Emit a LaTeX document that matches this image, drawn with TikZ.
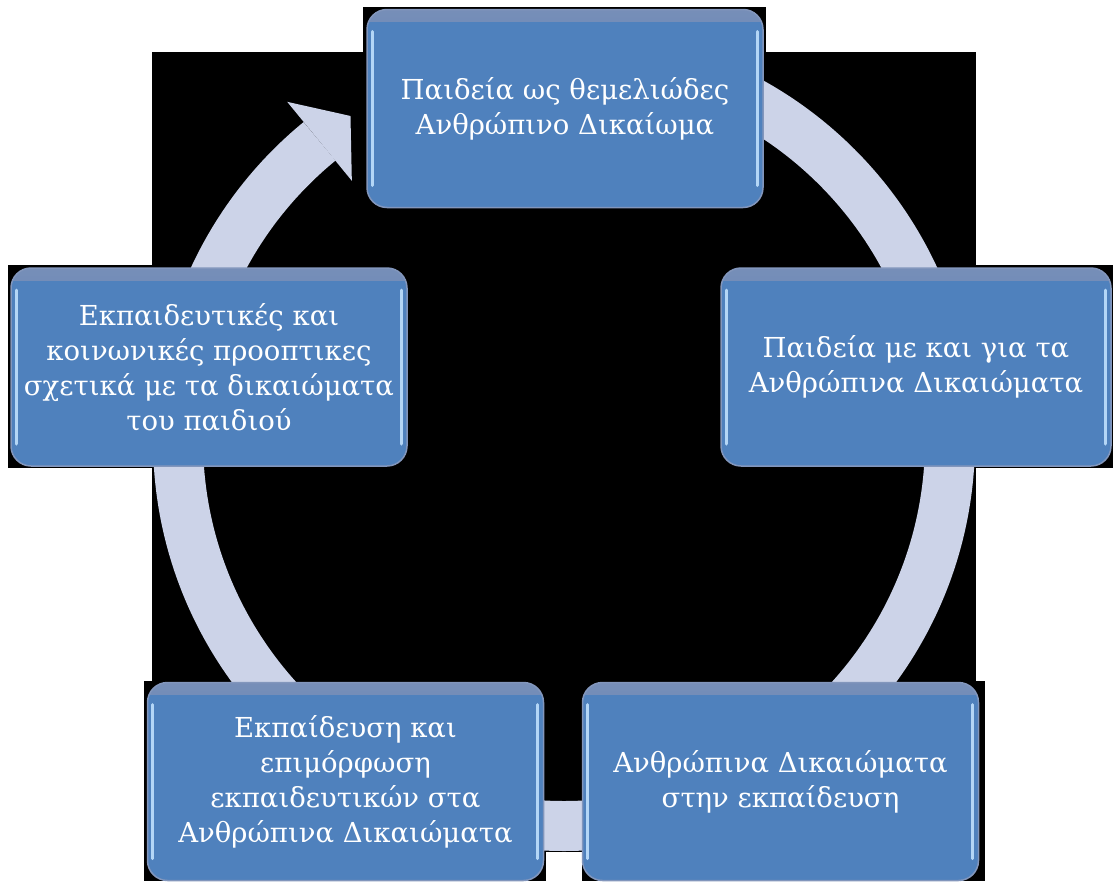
\documentclass[tikz,border=0pt]{standalone}
\usepackage{fontspec}
\setmainfont{DejaVu Serif}
\usetikzlibrary{calc}
\definecolor{boxblue}{RGB}{79,129,189}
\definecolor{boxtop}{RGB}{118,142,184}
\definecolor{boxedge}{RGB}{130,150,188}
\definecolor{hilite}{RGB}{180,214,246}
\definecolor{ringcol}{RGB}{204,211,232}
\begin{document}
\begin{tikzpicture}[x=1pt,y=1pt,
  stage/.style={rounded corners=20pt, fill=boxblue, draw=boxedge, line width=1.5pt,
    minimum width=396pt, minimum height=198pt, inner sep=0pt, align=center,
    text=white, font=\fontsize{27.5}{35}\selectfont,
    path picture={
      \fill[sharp corners, top color=boxtop, bottom color=boxblue]
        (path picture bounding box.north west) rectangle
        ([yshift=-12pt]path picture bounding box.north east);
      \draw[sharp corners, hilite, line width=3pt, line cap=round]
        ([xshift=5pt,yshift=-22pt]path picture bounding box.north west) --
        ([xshift=5pt,yshift=22pt]path picture bounding box.south west);
      \draw[sharp corners, hilite, line width=3pt, line cap=round]
        ([xshift=-6pt,yshift=-22pt]path picture bounding box.north east) --
        ([xshift=-6pt,yshift=22pt]path picture bounding box.south east);
    }},
  ringband/.style={draw=ringcol, line width=50pt},
  ringhead/.style={fill=ringcol}
]
\useasboundingbox (0,0) rectangle (1113,-881);
\fill[white] (0,0) rectangle (1113,-881);
% black backdrop pieces
\fill[black] (363,-7) rectangle (766,-52);
\fill[black] (152,-52) rectangle (976,-852);
\fill[black] (8,-265) rectangle (408,-468);
\fill[black] (720,-265) rectangle (1113,-468);
\fill[black] (144,-681) rectangle (546,-881);
\fill[black] (582,-681) rectangle (985,-881);
% cycle ring with arrow
\coordinate (ringc) at (564,-440);
\draw[ringband] (ringc) ++(90:386) arc[start angle=90, end angle=-230.7, radius=386];
\coordinate (ringend) at ($(ringc)+(129.3:386)$);
\coordinate (tip) at ($(ringend)+(39.3:40)$);
\coordinate (barbA) at ($(ringc)+(129.3:437)$);
\coordinate (barbB) at ($(ringc)+(129.3:335)$);
\fill[ringhead] (barbA) -- (tip) -- (barbB) -- cycle;
% stages
\node[stage] (n1) at (565,-108.5) {Παιδεία ως θεμελιώδες\\Ανθρώπινο Δικαίωμα};
\node[stage, minimum width=390pt] (n2) at (916,-367) {Παιδεία με και για τα\\Ανθρώπινα Δικαιώματα};
\node[stage] (n3) at (780.5,-781.5) {Ανθρώπινα Δικαιώματα\\στην εκπαίδευση};
\node[stage] (n4) at (345.5,-781.5) {Εκπαίδευση και\\επιμόρφωση\\εκπαιδευτικών στα\\Ανθρώπινα Δικαιώματα};
\node[stage] (n5) at (209,-367) {Εκπαιδευτικές και\\κοινωνικές προοπτικες\\σχετικά με τα δικαιώματα\\του παιδιού};
\end{tikzpicture}
\end{document}
